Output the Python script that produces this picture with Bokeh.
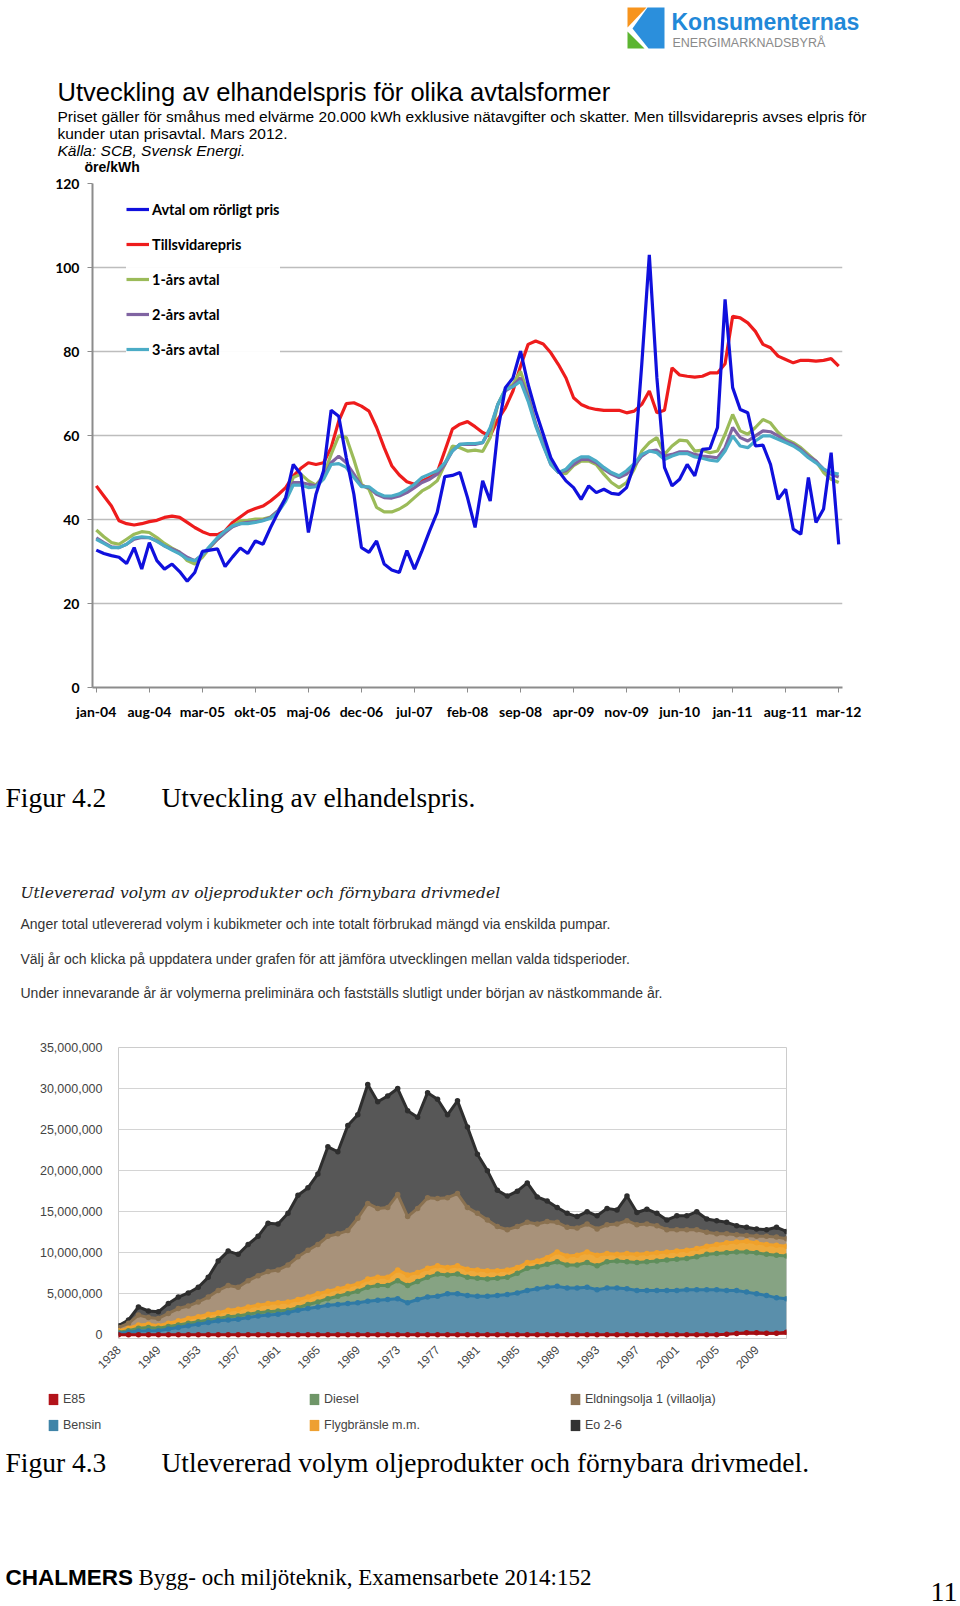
import numpy as np
from bokeh.plotting import figure
from bokeh.layouts import column
from bokeh.models import (Range1d, FixedTicker, Legend, LegendItem, ColumnDataSource,
                          NumeralTickFormatter)
from bokeh.core.properties import value
from bokeh.transform import stack
from bokeh.embed import file_html
from bokeh.resources import INLINE
import math

# ---------------- Chart 1 data (öre/kWh, monthly jan-04 .. mar-12) ----------------
month_ticks = ["jan-04", "aug-04", "mar-05", "okt-05", "maj-06", "dec-06", "jul-07", "feb-08",
               "sep-08", "apr-09", "nov-09", "jun-10", "jan-11", "aug-11", "mar-12"]

avtal_rorligt = [32.7, 31.9, 31.4, 31.0, 29.5, 33.3, 28.2, 34.5, 30.2, 28.2,
                 29.4, 27.6, 25.3, 27.4, 32.4, 32.7, 33.0, 28.8, 31.1, 33.2,
                 31.9, 34.9, 34.1, 38.1, 41.7, 45.2, 53.1, 50.8, 36.9, 46.0,
                 51.6, 66.0, 64.6, 54.7, 46.0, 33.3, 32.2, 34.9, 29.4, 28.0,
                 27.4, 32.6, 28.2, 32.6, 37.3, 41.7, 50.2, 50.5, 51.2, 45.2,
                 38.1, 49.2, 44.4, 61.1, 71.4, 73.7, 80.1, 72.2, 65.8, 60.3,
                 54.7, 51.6, 49.2, 47.6, 44.8, 48.0, 46.4, 47.2, 46.2, 46.0,
                 47.6, 53.1, 76.9, 103.0, 73.7, 52.4, 48.0, 49.6, 53.1, 50.4,
                 56.7, 56.9, 61.9, 92.4, 71.4, 66.2, 65.4, 57.5, 57.7, 53.1,
                 44.8, 47.2, 37.7, 36.5, 50.0, 39.3, 42.5, 55.9, 34.1]

tillsvidare = [48.0, 45.6, 43.2, 39.7, 39.0, 38.7, 39.0, 39.5, 39.8, 40.5,
               40.8, 40.5, 39.3, 38.1, 37.1, 36.4, 36.4, 37.3, 39.3, 40.6,
               41.9, 42.6, 43.2, 44.4, 45.9, 47.6, 50.4, 52.2, 53.5, 53.1,
               53.5, 57.1, 63.4, 67.6, 67.8, 67.0, 65.8, 61.9, 57.1, 52.8,
               50.6, 49.0, 48.4, 49.2, 50.0, 51.2, 56.3, 61.5, 62.7, 63.3,
               62.1, 60.7, 59.9, 63.8, 66.6, 70.6, 76.5, 81.7, 82.5, 81.8,
               79.7, 76.9, 73.7, 69.0, 67.4, 66.6, 66.2, 66.0, 66.0, 66.0,
               65.4, 65.8, 67.4, 70.6, 65.4, 66.0, 76.1, 74.4, 74.1, 73.9,
               74.1, 74.9, 74.9, 77.1, 88.4, 88.0, 86.8, 84.8, 81.7, 80.9,
               78.9, 78.1, 77.3, 77.9, 77.9, 77.7, 77.9, 78.3, 76.5]

ettars = [37.5, 35.9, 34.5, 34.1, 35.3, 36.5, 37.1, 36.9, 35.7, 34.3,
          33.2, 32.2, 30.2, 29.4, 31.0, 33.3, 35.3, 36.9, 38.5, 39.7,
          39.8, 40.1, 40.1, 40.6, 42.1, 45.2, 50.0, 50.8, 49.2, 48.2,
          50.4, 55.5, 59.9, 59.5, 54.3, 48.4, 47.2, 42.9, 41.8, 41.8,
          42.5, 43.6, 45.2, 46.8, 47.8, 49.2, 53.1, 57.5, 57.1, 56.3,
          56.5, 56.2, 59.5, 67.4, 71.0, 72.2, 75.3, 69.8, 62.7, 58.3,
          53.9, 51.2, 50.9, 52.8, 53.9, 53.9, 53.1, 50.8, 48.8, 47.6,
          48.8, 52.0, 56.3, 58.3, 59.5, 55.5, 57.5, 58.9, 58.7, 56.3,
          56.5, 55.9, 56.3, 60.3, 65.0, 61.1, 60.3, 61.9, 63.8, 63.0,
          60.7, 59.1, 58.3, 57.1, 55.5, 53.9, 51.2, 49.6, 48.8]

tvaars = [35.6, 34.5, 33.5, 33.3, 34.1, 35.3, 35.7, 35.7, 34.9, 33.7,
          33.0, 32.2, 31.0, 30.2, 31.6, 33.5, 35.3, 36.9, 38.3, 39.0,
          39.3, 39.5, 39.8, 40.5, 42.1, 44.8, 48.8, 48.8, 48.4, 48.0,
          50.0, 53.5, 55.1, 53.5, 50.8, 48.0, 47.6, 46.0, 45.2, 45.1,
          45.6, 46.4, 47.6, 48.8, 49.6, 50.8, 53.1, 56.3, 57.9, 57.9,
          57.9, 58.3, 61.5, 67.4, 70.6, 71.8, 73.7, 69.0, 62.7, 57.9,
          53.1, 51.2, 51.6, 53.1, 54.3, 54.3, 53.5, 52.0, 50.8, 50.0,
          50.8, 52.8, 55.1, 56.3, 56.5, 55.1, 55.5, 56.1, 56.1, 55.5,
          55.1, 54.9, 54.7, 57.1, 61.9, 59.5, 58.7, 59.9, 61.1, 60.9,
          59.9, 58.7, 57.9, 56.7, 55.1, 53.9, 52.0, 50.8, 50.1]

treaars = [35.3, 34.3, 33.3, 33.3, 34.1, 35.6, 35.9, 35.7, 34.8, 33.7,
           32.7, 31.8, 30.6, 30.2, 31.6, 33.7, 35.7, 37.3, 38.5, 39.0,
           39.0, 39.3, 39.7, 40.3, 41.7, 44.4, 48.2, 48.2, 47.6, 47.8,
           49.6, 53.1, 53.3, 52.4, 50.0, 47.8, 47.8, 46.4, 45.6, 45.6,
           46.1, 47.2, 48.4, 50.0, 50.8, 51.6, 53.5, 56.3, 57.9, 58.1,
           58.1, 58.3, 61.9, 67.4, 71.0, 71.6, 72.9, 68.2, 62.3, 57.5,
           53.1, 51.2, 52.0, 53.9, 54.9, 54.9, 53.9, 52.4, 51.2, 50.4,
           51.6, 53.3, 55.5, 56.3, 55.9, 54.3, 55.1, 55.7, 55.7, 54.9,
           54.6, 54.1, 53.9, 56.3, 59.9, 57.5, 57.1, 58.7, 59.9, 59.9,
           59.1, 58.3, 57.5, 56.3, 54.7, 53.5, 52.0, 51.2, 50.8]

# ---------------- Chart 2 data (million m3, stacked) ----------------
years = ["1938"] + [str(y) for y in range(1946, 2013)]

e85 = [0.0] * 60 + [0.02, 0.08, 0.15, 0.25, 0.25, 0.2, 0.2, 0.3]
bensin = [0.2, 0.3, 0.45, 0.5, 0.5, 0.7, 0.9, 1.1, 1.3, 1.5,
          1.7, 1.8, 1.9, 2.1, 2.3, 2.4, 2.5, 2.7, 3.0, 3.2,
          3.4, 3.6, 3.7, 3.8, 3.9, 4.1, 4.2, 4.3, 4.4, 3.9,
          4.3, 4.6, 4.7, 5.0, 5.0, 4.8, 4.7, 4.7, 4.8, 4.9,
          5.1, 5.4, 5.6, 5.8, 5.9, 5.7, 5.7, 5.8, 5.5, 5.7,
          5.7, 5.6, 5.4, 5.4, 5.4, 5.4, 5.4, 5.5, 5.5, 5.5,
          5.48, 5.32, 5.25, 4.95, 4.75, 4.6, 4.3, 4.1]
diesel = [0.1, 0.2, 0.35, 0.4, 0.3, 0.3, 0.3, 0.3, 0.3, 0.3,
          0.3, 0.4, 0.4, 0.4, 0.4, 0.4, 0.4, 0.3, 0.3, 0.5,
          0.6, 0.8, 1.0, 1.2, 1.4, 1.7, 1.8, 1.7, 2.2, 2.1,
          2.2, 2.4, 2.7, 2.3, 2.4, 2.2, 2.2, 2.1, 2.1, 2.1,
          2.4, 2.7, 2.7, 2.8, 3.0, 2.8, 2.8, 3.0, 2.9, 3.2,
          3.3, 3.3, 3.4, 3.5, 3.6, 3.7, 3.8, 3.8, 4.0, 4.3,
          4.4, 4.6, 4.7, 4.9, 5.0, 5.0, 5.2, 5.2]
flyg = [0.2, 0.3, 0.4, 0.4, 0.3, 0.4, 0.5, 0.6, 0.6, 0.7,
        0.7, 0.8, 0.8, 0.9, 0.9, 1.0, 1.0, 1.0, 1.0, 0.9,
        1.0, 0.9, 0.9, 0.9, 0.9, 1.0, 1.0, 1.0, 1.3, 1.3,
        1.1, 1.1, 1.0, 0.9, 1.0, 1.0, 1.0, 1.0, 0.9, 0.9,
        0.7, 0.7, 0.7, 0.8, 1.2, 1.1, 1.2, 1.3, 1.3, 1.0,
        0.8, 1.0, 1.0, 1.0, 1.0, 1.0, 1.0, 1.0, 1.0, 1.0,
        1.1, 1.2, 1.2, 1.3, 1.2, 1.2, 1.2, 1.2]
eo1 = [0.4, 0.6, 1.2, 0.8, 0.9, 1.2, 1.5, 1.5, 1.8, 2.1,
       2.7, 3.0, 2.7, 3.2, 3.6, 3.9, 4.0, 4.5, 5.2, 5.7,
       6.0, 6.7, 6.7, 6.8, 8.0, 9.2, 8.4, 8.5, 9.2, 7.1,
       7.8, 8.6, 8.2, 8.5, 8.8, 7.5, 6.9, 6.2, 5.4, 4.9,
       5.0, 4.9, 4.5, 4.4, 3.6, 3.5, 3.3, 3.4, 3.2, 3.5,
       3.7, 4.0, 3.6, 3.6, 3.3, 2.7, 2.6, 2.5, 2.3, 1.7,
       1.3, 1.1, 0.9, 0.7, 0.8, 1.0, 1.0, 0.9]
eo26 = [0.2, 0.4, 1.0, 0.8, 0.8, 1.2, 1.4, 1.6, 1.8, 2.4,
        3.6, 4.2, 4.0, 4.4, 4.8, 5.9, 5.6, 6.3, 7.5, 7.6,
        8.6, 10.9, 10.0, 12.8, 12.6, 14.5, 13.0, 13.6, 12.9, 12.9,
        11.1, 12.8, 12.1, 10.1, 11.3, 9.8, 7.2, 6.0, 4.4, 4.1,
        4.3, 4.8, 3.3, 2.5, 1.8, 1.7, 1.4, 1.5, 1.6, 2.0,
        1.7, 3.0, 1.5, 1.8, 1.5, 1.2, 1.7, 1.7, 2.2, 1.6,
        1.6, 1.4, 1.1, 1.0, 0.9, 0.8, 1.2, 0.9]

fuel_names = ["E85", "Bensin", "Diesel", "Flygbränsle m.m.", "Eldningsolja 1 (villaolja)", "Eo 2-6"]

W = 960


def no_align(f):
    try:
        f.frame_align = False
    except AttributeError:
        pass
    return f


def text_fig(top, bottom):
    f = figure(width=W, height=bottom - top, x_range=Range1d(0, W), y_range=Range1d(bottom, top),
               output_backend="svg", toolbar_location=None, x_axis_type=None, y_axis_type=None,
               min_border=0, outline_line_color=None)
    f.grid.visible = False
    return no_align(f)


def put(f, x, y, s, size, font="Liberation Sans", style="normal", color="#000000", align="left"):
    f.text(x=[x], y=[y], text=[s], text_font=value(font), text_font_size=f"{size}px",
           text_font_style=style, text_color=color, text_align=align, text_baseline="middle")


# ---------------- Header ----------------
head = text_fig(0, 175)
head.patches(xs=[[627, 646, 627], [647, 664, 664, 648, 632], [627, 627, 644]],
             ys=[[7, 7, 27], [7, 7, 48, 48, 28], [31, 48, 48]],
             fill_color=["#f7941d", "#2b8fdc", "#5cb531"], line_color=None)
put(head, 671, 21, "Konsumenternas", 23, "Liberation Sans", "bold", "#2288d8")
put(head, 672, 42, "ENERGIMARKNADSBYRÅ", 12.5, "Liberation Sans", "normal", "#8a8a8a")
put(head, 57, 91, "Utveckling av elhandelspris för olika avtalsformer", 25.5, "Liberation Sans")
put(head, 57, 116, "Priset gäller för småhus med elvärme 20.000 kWh exklusive nätavgifter och skatter. "
                   "Men tillsvidarepris avses elpris för", 15.5, "Liberation Sans")
put(head, 57, 133, "kunder utan prisavtal. Mars 2012.", 15.5, "Liberation Sans")
put(head, 57, 150, "Källa: SCB, Svensk Energi.", 15.5, "Liberation Sans", "italic")
put(head, 84, 166, "öre/kWh", 14, "Liberation Sans", "bold")

# ---------------- Chart 1 ----------------
src1 = ColumnDataSource(dict(m=list(range(len(avtal_rorligt))), blue=avtal_rorligt, red=tillsvidare,
                             g1=ettars, g2=tvaars, g3=treaars))
p1 = figure(width=W, height=547, x_range=Range1d(-0.5, 98.5), y_range=Range1d(0, 120),
            output_backend="svg", toolbar_location=None, min_border_left=92, min_border_right=118,
            min_border_top=8, min_border_bottom=34, outline_line_color=None)
no_align(p1)
r_red = p1.line("m", "red", source=src1, line_color="#ee1c1c", line_width=3.2)
r_g1 = p1.line("m", "g1", source=src1, line_color="#9bbb59", line_width=3.2)
r_g2 = p1.line("m", "g2", source=src1, line_color="#8064a2", line_width=3.2)
r_g3 = p1.line("m", "g3", source=src1, line_color="#4bacc6", line_width=3.2)
r_blue = p1.line("m", "blue", source=src1, line_color="#1010dd", line_width=3.2)

p1.xgrid.visible = False
p1.ygrid.grid_line_color = "#bdbdbd"
p1.ygrid.grid_line_width = 1.5
p1.yaxis.ticker = FixedTicker(ticks=[0, 20, 40, 60, 80, 100, 120])
p1.xaxis.ticker = FixedTicker(ticks=[7 * i for i in range(len(month_ticks))])
p1.xaxis.major_label_overrides = {7 * i: lab for i, lab in enumerate(month_ticks)}
for ax in (p1.xaxis[0], p1.yaxis[0]):
    ax.axis_line_color = "#8c8c8c"
    ax.axis_line_width = 2
    ax.major_tick_line_color = "#8c8c8c"
    ax.major_tick_out = 5
    ax.major_tick_in = 0
    ax.minor_tick_line_color = None
    ax.major_label_text_font = "Lato"
    ax.major_label_text_font_style = "bold"
    ax.major_label_text_font_size = "14px"
    ax.major_label_text_color = "#000000"
p1.yaxis.major_label_standoff = 8
p1.xaxis.major_label_standoff = 10

leg1 = Legend(items=[LegendItem(label="Avtal om rörligt pris", renderers=[r_blue]),
                     LegendItem(label="Tillsvidarepris", renderers=[r_red]),
                     LegendItem(label="1-års avtal", renderers=[r_g1]),
                     LegendItem(label="2-års avtal", renderers=[r_g2]),
                     LegendItem(label="3-års avtal", renderers=[r_g3])],
              location=(34, 328), glyph_width=23, glyph_height=20, label_height=20, spacing=15,
              padding=10, label_standoff=3, background_fill_color="white", border_line_color=None,
              label_text_font="Lato", label_text_font_style="bold", label_text_font_size="14.5px",
              label_text_color="#000000")
p1.add_layout(leg1)

# ---------------- Middle text ----------------
mid = text_fig(722, 1010)
put(mid, 5, 797, "Figur 4.2", 27.5, "Liberation Serif")
put(mid, 161, 797, "Utveckling av elhandelspris.", 27.5, "Liberation Serif")
put(mid, 20, 892, "Utlevererad volym av oljeprodukter och förnybara drivmedel", 15.5,
    "DejaVu Serif", "italic", "#222222")
put(mid, 20, 923, "Anger total utlevererad volym i kubikmeter och inte totalt förbrukad mängd via enskilda pumpar.",
    14, "Liberation Sans", "normal", "#333333")
put(mid, 20, 958, "Välj år och klicka på uppdatera under grafen för att jämföra utvecklingen mellan valda tidsperioder.",
    14, "Liberation Sans", "normal", "#333333")
put(mid, 20, 992, "Under innevarande år är volymerna preliminära och fastställs slutligt under början av nästkommande år.",
    14, "Liberation Sans", "normal", "#333333")

# ---------------- Chart 2 ----------------
keys = ["e85", "bensin", "diesel", "flyg", "eo1", "eo26"]
series = [e85, bensin, diesel, flyg, eo1, eo26]
data2 = {"x": list(range(len(years)))}
for k, s in zip(keys, series):
    data2[k] = (np.array(s) * 1e6).tolist()
src2 = ColumnDataSource(data2)
fills = ["#b0101a", "#5a8fab", "#86a383", "#eeaa3c", "#a8927a", "#575757"]
lines = ["#a50d12", "#2f7aa6", "#5f8e5b", "#f0a12a", "#8a7150", "#2e2e2e"]
swatch = ["#b3131a", "#3f84a8", "#6f9668", "#eea031", "#8c7253", "#333333"]

p2 = figure(width=W, height=365, x_range=Range1d(0, 67), y_range=Range1d(-0.45e6, 35e6),
            output_backend="svg", toolbar_location=None, min_border_left=118, min_border_right=174,
            min_border_top=37, min_border_bottom=37, outline_line_color="#cccccc")
no_align(p2)
areas = p2.varea_stack(keys, x="x", source=src2, fill_color=fills)
for i in range(len(keys) - 1, -1, -1):
    p2.line(x="x", y=stack(*keys[:i + 1]), source=src2, line_color=lines[i], line_width=3)
    p2.scatter(x="x", y=stack(*keys[:i + 1]), source=src2, size=5.5, fill_color=lines[i], line_color=None)

p2.xgrid.visible = False
p2.ygrid.grid_line_color = "#d4d4d4"
p2.yaxis.ticker = FixedTicker(ticks=[i * 5e6 for i in range(8)])
p2.yaxis.formatter = NumeralTickFormatter(format="0,0")
p2.xaxis.ticker = FixedTicker(ticks=list(range(0, 65, 4)))
p2.xaxis.major_label_overrides = {i: years[i] for i in range(0, 65, 4)}
p2.xaxis.major_label_orientation = math.pi / 4
for ax in (p2.xaxis[0], p2.yaxis[0]):
    ax.axis_line_color = None
    ax.major_tick_line_color = None
    ax.minor_tick_line_color = None
    ax.major_label_text_font = "Liberation Sans"
    ax.major_label_text_font_size = "12.5px"
    ax.major_label_text_color = "#444444"
p2.yaxis.major_label_standoff = 10
p2.xaxis.major_label_standoff = 3
p2.xaxis.major_label_text_font_size = "12px"

# ---------------- Bottom: legend of chart 2 + caption + footer ----------------
bot = text_fig(1375, 1606)
nan = float("nan")
leg_r = [bot.varea(x=[nan], y1=[nan], y2=[nan], fill_color=c) for c in swatch]
leg2 = Legend(items=[LegendItem(label=n, renderers=[r]) for n, r in zip(fuel_names, leg_r)],
              location=(47, 174), orientation="vertical", nrows=2, glyph_width=12, glyph_height=14,
              label_height=14, label_width=233, label_standoff=4, spacing=12, padding=10,
              border_line_color=None, background_fill_alpha=0,
              label_text_font="Liberation Sans", label_text_font_size="12.5px", label_text_color="#444444")
bot.add_layout(leg2)
put(bot, 5, 1462, "Figur 4.3", 27.5, "Liberation Serif")
put(bot, 161, 1462, "Utlevererad volym oljeprodukter och förnybara drivmedel.", 27.5, "Liberation Serif")
put(bot, 5, 1577, "CHALMERS", 22.5, "Liberation Sans", "bold")
put(bot, 138, 1577, "Bygg- och miljöteknik, Examensarbete 2014:152", 23, "Liberation Serif")
put(bot, 957, 1591, "11", 28, "Liberation Serif", "normal", "#000000", "right")

page = column(head, p1, mid, p2, bot, spacing=0)
open("out.html", "w").write(file_html(page, INLINE))
